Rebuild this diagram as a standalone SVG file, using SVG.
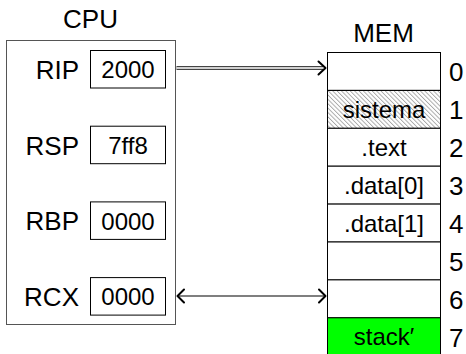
<svg xmlns="http://www.w3.org/2000/svg" width="466" height="354" viewBox="0 0 466 354">
<defs>
<pattern id="hatch" patternUnits="userSpaceOnUse" width="3.1" height="3.1" patternTransform="rotate(-45)">
<line x1="0.5" y1="0" x2="0.5" y2="3.1" stroke="#777" stroke-width="0.6"/>
</pattern>
</defs>
<style>
text{font-family:"Liberation Sans",Arial,sans-serif;fill:#000}
.title{font-size:26px;text-anchor:middle}
.lbl{font-size:26px;text-anchor:end}
.val{font-size:24px;text-anchor:middle}
.num{font-size:26px;text-anchor:start}
.reg{fill:#fff;stroke:#000;stroke-width:1}
.cell{fill:#fff;stroke:#000;stroke-width:1}
.head{fill:none;stroke:#000;stroke-width:2;stroke-linecap:round;stroke-linejoin:round}
</style>
<rect width="466" height="354" fill="#fff"/>
<g id="cpu">
<text class="title" x="90.5" y="28">CPU</text>
<rect x="6.5" y="40.5" width="169" height="284" fill="#fff" stroke="#555" stroke-width="1"/>
</g>
<g id="rip">
<text class="lbl" x="79" y="79">RIP</text>
<rect class="reg" x="90.5" y="50.5" width="75" height="37.5"/>
<text class="val" x="128" y="78">2000</text>
</g>
<g id="rsp">
<text class="lbl" x="79" y="155">RSP</text>
<rect class="reg" x="90.5" y="126.2" width="75" height="37.5"/>
<text class="val" x="128" y="154">7ff8</text>
</g>
<g id="rbp">
<text class="lbl" x="79" y="230">RBP</text>
<rect class="reg" x="90.5" y="201.9" width="75" height="37.5"/>
<text class="val" x="128" y="229.5">0000</text>
</g>
<g id="rcx">
<text class="lbl" x="79" y="306">RCX</text>
<rect class="reg" x="90.5" y="277.6" width="75" height="37.5"/>
<text class="val" x="128" y="305">0000</text>
</g>
<g id="mem">
<text class="title" x="383.5" y="42">MEM</text>
<rect class="cell" x="327.5" y="52.5" width="113" height="37.9"/>
<rect x="327.5" y="90.4" width="113" height="37.9" fill="url(#hatch)" stroke="#000" stroke-width="1"/>
<rect class="cell" x="327.5" y="128.3" width="113" height="37.9"/>
<rect class="cell" x="327.5" y="166.2" width="113" height="37.9"/>
<rect class="cell" x="327.5" y="204.1" width="113" height="37.9"/>
<rect class="cell" x="327.5" y="242" width="113" height="37.9"/>
<rect class="cell" x="327.5" y="279.9" width="113" height="37.9"/>
<rect x="327.5" y="317.8" width="113" height="37.9" fill="#00ff00" stroke="#000" stroke-width="1"/>
<text class="val" x="384" y="118">sistema</text>
<text class="val" x="384" y="155.5">.text</text>
<text class="val" x="384" y="193.5">.data[0]</text>
<text class="val" x="384" y="231.5">.data[1]</text>
<text class="val" x="384" y="345">stack′</text>
<text class="num" x="449" y="81">0</text>
<text class="num" x="449" y="119">1</text>
<text class="num" x="449" y="157">2</text>
<text class="num" x="449" y="195">3</text>
<text class="num" x="449" y="233">4</text>
<text class="num" x="449" y="270.5">5</text>
<text class="num" x="449" y="308.5">6</text>
<text class="num" x="449" y="346.5">7</text>
</g>
<g id="connectors">
<line x1="176.5" y1="68" x2="323" y2="68" stroke="#444" stroke-width="4"/>
<line x1="176.5" y1="68" x2="324" y2="68" stroke="#fff" stroke-width="1.6"/>
<path class="head" d="M318.5,61.5 L325.5,68 L318.5,74.5"/>
<line x1="177" y1="296" x2="326" y2="296" stroke="#000" stroke-width="1.2"/>
<path class="head" d="M184,289.5 L177.5,296 L184,302.5"/>
<path class="head" d="M319,289.5 L325.5,296 L319,302.5"/>
</g>
</svg>
